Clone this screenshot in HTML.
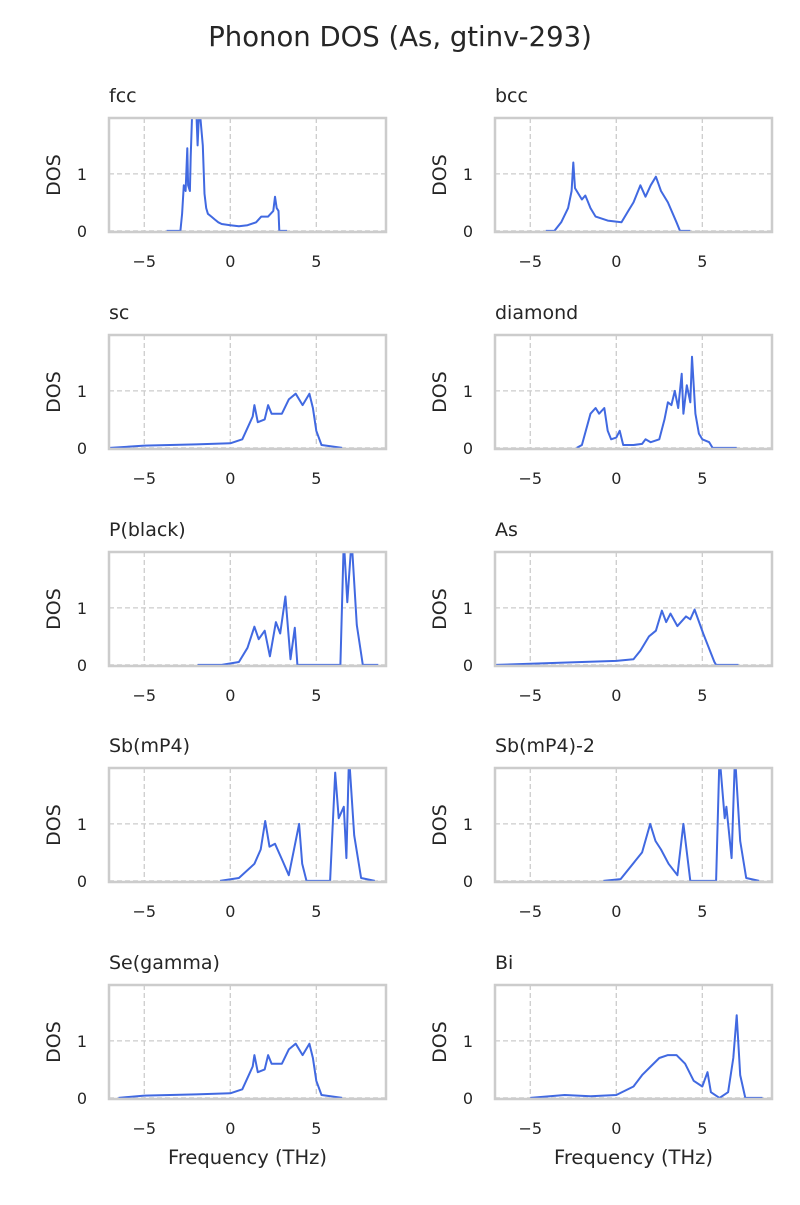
<!DOCTYPE html>
<html><head><meta charset="utf-8"><style>
body{margin:0;background:#fff;}
svg text{font-family:"DejaVu Sans","Liberation Sans",sans-serif;fill:#262626;}
</style></head><body>
<svg id="fig" width="800" height="1200" xmlns="http://www.w3.org/2000/svg">
<text x="400" y="46" font-size="27.5" text-anchor="middle">Phonon DOS (As, gtinv-293)</text>
</svg>
<script>
const panelNames = ["fcc","bcc","sc","diamond","P(black)","As","Sb(mP4)","Sb(mP4)-2","Se(gamma)","Bi"];
const xTicks = [-5,0,5];
const yTicks = [0,1];
const fccData = [[-3.7,0],[-2.9,0],[-2.8,0.3],[-2.7,0.8],[-2.6,0.7],[-2.5,1.45],[-2.45,0.8],[-2.35,0.7],[-2.3,1.3],[-2.2,2.2],[-2.1,2.0],[-2.0,2.3],[-1.9,1.5],[-1.8,2.2],[-1.6,1.5],[-1.5,0.65],[-1.4,0.4],[-1.3,0.3],[-1.1,0.25],[-0.9,0.2],[-0.7,0.15],[-0.5,0.12],[0,0.1],[0.5,0.08],[1,0.1],[1.5,0.15],[1.8,0.25],[2.2,0.25],[2.5,0.35],[2.6,0.6],[2.7,0.4],[2.8,0.35],[2.85,0],[3.3,0]];
const bccData = [[-4.1,0],[-3.6,0],[-3.2,0.15],[-2.8,0.4],[-2.6,0.7],[-2.5,1.2],[-2.4,0.75],[-2.2,0.65],[-2,0.55],[-1.8,0.62],[-1.7,0.55],[-1.5,0.4],[-1.2,0.25],[-0.5,0.18],[0.3,0.15],[0.7,0.35],[1,0.5],[1.4,0.8],[1.7,0.6],[2,0.8],[2.3,0.95],[2.6,0.7],[3,0.5],[3.5,0.15],[3.7,0],[4.3,0]];
const scData = [[-7,0],[-5,0.04],[-2,0.06],[0,0.08],[0.7,0.15],[1,0.35],[1.3,0.55],[1.4,0.75],[1.6,0.45],[2,0.5],[2.2,0.75],[2.4,0.6],[3,0.6],[3.4,0.85],[3.8,0.95],[4.2,0.75],[4.6,0.95],[4.8,0.7],[5,0.3],[5.3,0.05],[6.5,0]];
const diamondData = [[-2.3,0],[-2,0.05],[-1.5,0.6],[-1.2,0.7],[-1,0.6],[-0.7,0.7],[-0.5,0.3],[-0.3,0.15],[0,0.18],[0.2,0.3],[0.4,0.05],[1,0.05],[1.5,0.07],[1.7,0.15],[2,0.1],[2.5,0.15],[2.8,0.5],[3,0.8],[3.2,0.75],[3.4,1.0],[3.6,0.7],[3.8,1.3],[3.9,0.6],[4.1,1.1],[4.3,0.8],[4.4,1.6],[4.6,0.6],[4.8,0.25],[5,0.15],[5.4,0.1],[5.6,0],[7,0]];
const pblackData = [[-1.9,0],[-0.5,0],[0.5,0.05],[1,0.3],[1.4,0.67],[1.65,0.45],[2,0.6],[2.3,0.15],[2.65,0.75],[2.9,0.55],[3.2,1.2],[3.5,0.1],[3.75,0.65],[3.9,0],[6.4,0],[6.6,2.2],[6.8,1.1],[7.05,2.2],[7.35,0.7],[7.6,0.2],[7.7,0],[8.6,0]];
const asData = [[-7,0],[-5,0.02],[-2,0.05],[0,0.07],[1,0.1],[1.4,0.25],[1.9,0.5],[2.3,0.6],[2.65,0.95],[2.9,0.75],[3.15,0.9],[3.55,0.68],[4.05,0.85],[4.3,0.8],[4.55,0.97],[5.05,0.55],[5.7,0.05],[5.8,0],[7.1,0]];
const sbData = [[-0.6,0],[0.5,0.05],[1.4,0.3],[1.77,0.55],[2.03,1.05],[2.28,0.6],[2.6,0.65],[3.04,0.35],[3.4,0.1],[3.67,0.5],[4,1.0],[4.18,0.3],[4.43,0],[5.8,0],[6.1,1.9],[6.3,1.1],[6.6,1.3],[6.75,0.4],[6.9,2.2],[7.2,0.8],[7.6,0.05],[8.4,0]];
const sb2Data = [[-0.75,0],[0.25,0.03],[1.5,0.5],[1.97,1.0],[2.28,0.7],[2.6,0.55],[3.04,0.3],[3.55,0.1],[3.9,1.0],[4.3,0],[5.8,0],[6,2.2],[6.3,1.1],[6.4,1.3],[6.7,0.4],[6.9,2.2],[7.2,0.7],[7.55,0.05],[8.3,0]];
const seData = [[-6.5,0],[-5,0.04],[-2,0.06],[0,0.08],[0.7,0.15],[1,0.35],[1.3,0.55],[1.4,0.75],[1.6,0.45],[2,0.5],[2.2,0.75],[2.4,0.6],[3,0.6],[3.4,0.85],[3.8,0.95],[4.2,0.75],[4.6,0.95],[4.8,0.7],[5,0.3],[5.3,0.05],[6.5,0]];
const biData = [[-5,0],[-3,0.05],[-1.5,0.03],[0,0.05],[1,0.2],[1.5,0.4],[2,0.55],[2.5,0.7],[3,0.75],[3.5,0.75],[4,0.6],[4.5,0.3],[5,0.2],[5.3,0.45],[5.5,0.1],[6,0],[6.5,0.1],[6.8,0.7],[7,1.45],[7.2,0.4],[7.5,0],[8.5,0]];
const allData = [fccData,bccData,scData,diamondData,pblackData,asData,sbData,sb2Data,seData,biData];

const NS="http://www.w3.org/2000/svg";
const svg=document.getElementById('fig');
const xMin=-7.05,xMax=9.05,yMin=-0.02,yMax=1.98;
const colX=[109,495],rowY=[118,335,552,768,985],W=277,H=114;
function mk(tag,attrs,parent){const e=document.createElementNS(NS,tag);for(const k in attrs)e.setAttribute(k,attrs[k]);(parent||svg).appendChild(e);return e;}
panelNames.forEach((name,i)=>{
  const x0=colX[i%2],y0=rowY[Math.floor(i/2)];
  const sx=v=>x0+(v-xMin)/(xMax-xMin)*W;
  const sy=v=>y0+H-(v-yMin)/(yMax-yMin)*H;
  const g=mk('g',{});
  
  
  const cp=mk('clipPath',{id:'cp'+i},g);mk('rect',{x:x0,y:y0,width:W,height:H},cp);
  xTicks.forEach(t=>{
    const l=mk('line',{x1:sx(t),x2:sx(t),y1:y0,y2:y0+H,stroke:'#cccccc','stroke-width':1.3,'stroke-dasharray':'5,3'},g);
    
    
    const tx=mk('text',{x:sx(t),y:y0+H+35,'font-size':16,'text-anchor':'middle'},g);
    tx.textContent=t<0?'\u2212'+(-t):String(t);
    
    
  });
  yTicks.forEach(t=>{
    const l=mk('line',{x1:x0,x2:x0+W,y1:sy(t),y2:sy(t),stroke:'#cccccc','stroke-width':1.3,'stroke-dasharray':'5,3'},g);
    
    
    const tx=mk('text',{x:x0-27,y:sy(t)+6,'font-size':16,'text-anchor':'middle'},g);
    tx.textContent=String(t);
    
    
  });
  const d=allData[i].map((p,j)=>(j?'L':'M')+sx(p[0]).toFixed(1)+','+sy(p[1]).toFixed(1)).join('');
  const path=mk('path',{d:d,fill:'none',stroke:'#4169e1','stroke-width':2,'stroke-linejoin':'round','clip-path':'url(#cp'+i+')'},g);
  
  
  const fr=mk('rect',{x:x0,y:y0,width:W,height:H,fill:'none',stroke:'#cccccc','stroke-width':2.5},g);
  
  
  const tt=mk('text',{x:x0,y:y0-16,'font-size':19},g);
  tt.textContent=name;
  
  
  const yl=mk('text',{x:0,y:0,'font-size':19,'text-anchor':'middle',transform:'translate('+(x0-49)+','+(y0+H/2)+') rotate(-90)'},g);
  yl.textContent='DOS';
  
  
  if(i>=8){
    const xl=mk('text',{x:x0+W/2,y:y0+H+65,'font-size':19.5,'text-anchor':'middle'},g);
    xl.textContent='Frequency (THz)';
    
    
  }
});
</script>
</body></html>
